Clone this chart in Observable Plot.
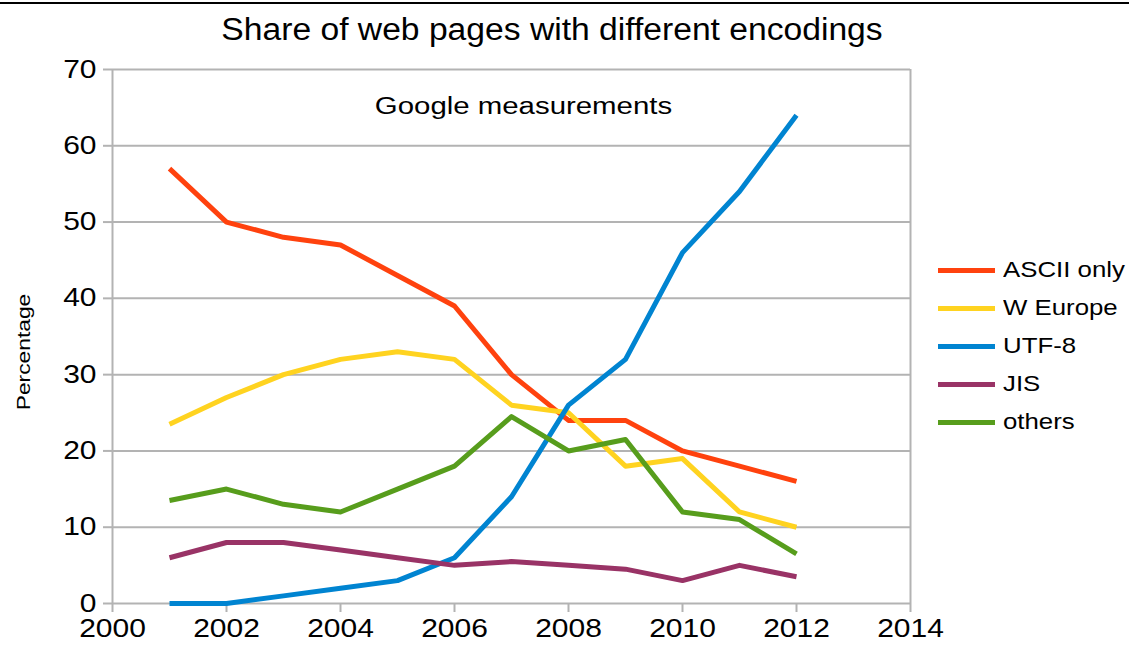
<!DOCTYPE html>
<html>
<head>
<meta charset="utf-8">
<script src="https://cdn.jsdelivr.net/npm/d3@7"></script>
<script src="https://cdn.jsdelivr.net/npm/@observablehq/plot@0.6"></script>
<style>
  html, body { margin: 0; padding: 0; background: #fff; }
  #wrap { position: relative; width: 1129px; height: 651px; overflow: hidden; font-family: "Liberation Sans", Arial, sans-serif; }
  #topline { position: absolute; left: 0; top: 2px; width: 1129px; height: 2px; background: #000; }
  #title { position: absolute; left: 0; top: 12px; width: 1104px; text-align: center; font-size: 31px; color: #000; transform: scaleX(1.085); transform-origin: 50% 50%; }
  #chart { position: absolute; left: 0; top: 0; }
  #legend { position: absolute; left: 938px; top: 251px; }
  .row { display: flex; align-items: center; height: 38px; }
  .sw { width: 57px; height: 5px; margin-right: 8px; flex: none; }
  .lb { font-size: 21.5px; color: #000; line-height: 26px; display: inline-block; transform: scaleX(1.2); transform-origin: 0 50%; white-space: nowrap; }
</style>
</head>
<body>
<div id="wrap">
  <div id="topline"></div>
  <div id="chart"></div>
  <div id="title">Share of web pages with different encodings</div>
  <div id="legend"></div>
</div>
<script>
const years = [2001, 2002, 2003, 2004, 2005, 2006, 2007, 2008, 2009, 2010, 2011, 2012];
const seriesNames = ["ASCII only", "W Europe", "UTF-8", "JIS", "others"];
const seriesColors = ["#ff420e", "#ffd320", "#0084d1", "#993366", "#579d1c"];
const asciiOnly = [57, 50, 48, 47, 43, 39, 30, 24, 24, 20, 18, 16];
const wEurope   = [23.5, 27, 30, 32, 33, 32, 26, 25, 18, 19, 12, 10];
const utf8      = [0, 0, 1, 2, 3, 6, 14, 26, 32, 46, 54, 64];
const jis       = [6, 8, 8, 7, 6, 5, 5.5, 5, 4.5, 3, 5, 3.5];
const others    = [13.5, 15, 13, 12, 15, 18, 24.5, 20, 21.5, 12, 11, 6.5];
const xTicks = [2000, 2002, 2004, 2006, 2008, 2010, 2012, 2014];
const yTicks = [0, 10, 20, 30, 40, 50, 60, 70];
const xDomain = [2000, 2014];
const yDomain = [0, 70];
const subtitle = ["Google measurements"];
const yLabel = "Percentage";

const seriesValues = [asciiOnly, wEurope, utf8, jis, others];
const data = [];
seriesNames.forEach((name, i) => {
  years.forEach((yr, j) => data.push({series: name, year: yr, value: seriesValues[i][j]}));
});

const grid = "#b3b3b3";
const chart = Plot.plot({
  width: 1129,
  height: 651,
  marginLeft: 112,
  marginRight: 219,
  marginTop: 69,
  marginBottom: 48,
  style: {fontFamily: "Liberation Sans, Arial, sans-serif", background: "transparent", overflow: "visible"},
  x: {domain: xDomain},
  y: {domain: yDomain},
  color: {domain: seriesNames, range: seriesColors},
  marks: [
    Plot.gridY(yTicks, {stroke: grid, strokeOpacity: 1, strokeWidth: 2}),
    Plot.ruleX(xDomain, {stroke: grid, strokeWidth: 2}),
    Plot.axisY(yTicks, {tickSize: 9, tickPadding: 7, stroke: grid, strokeWidth: 2, fill: "#000", fontSize: 25, label: null, tickFormat: d => String(d)}),
    Plot.axisX(xTicks, {tickSize: 9, tickPadding: 7, stroke: grid, strokeWidth: 2, fill: "#000", fontSize: 25, label: null, tickFormat: d => String(d)}),
    Plot.line(data, {x: "year", y: "value", z: "series", stroke: "series", strokeWidth: 5, strokeLinejoin: "round", strokeLinecap: "butt"}),
    Plot.text(subtitle, {frameAnchor: "top", dx: 12, dy: 27, fontSize: 24.5, fill: "#000"})
  ]
});
document.getElementById("chart").appendChild(chart);

// widen text glyphs horizontally around their anchor
function stretch(sel, s) {
  chart.querySelectorAll(sel).forEach(t => {
    const x = parseFloat(t.getAttribute("x") || "0");
    const prev = t.getAttribute("transform") || "";
    t.setAttribute("transform", `${prev} translate(${x},0) scale(${s},1) translate(${-x},0)`);
  });
}
stretch('g[aria-label="y-axis tick label"] text', 1.2);
stretch('g[aria-label="x-axis tick label"] text', 1.2);
stretch('g[aria-label="text"] text', 1.2);

const svg = d3.select(chart);
svg.append("text")
  .attr("transform", "translate(30,352) rotate(-90) scale(1.2,1)")
  .attr("text-anchor", "middle")
  .attr("font-size", 19)
  .attr("fill", "#000")
  .text(yLabel);

const legend = document.getElementById("legend");
seriesNames.forEach((name, i) => {
  const row = document.createElement("div");
  row.className = "row";
  const sw = document.createElement("div");
  sw.className = "sw";
  sw.style.background = seriesColors[i];
  const lb = document.createElement("span");
  lb.className = "lb";
  lb.textContent = name;
  row.appendChild(sw);
  row.appendChild(lb);
  legend.appendChild(row);
});
</script>
</body>
</html>
